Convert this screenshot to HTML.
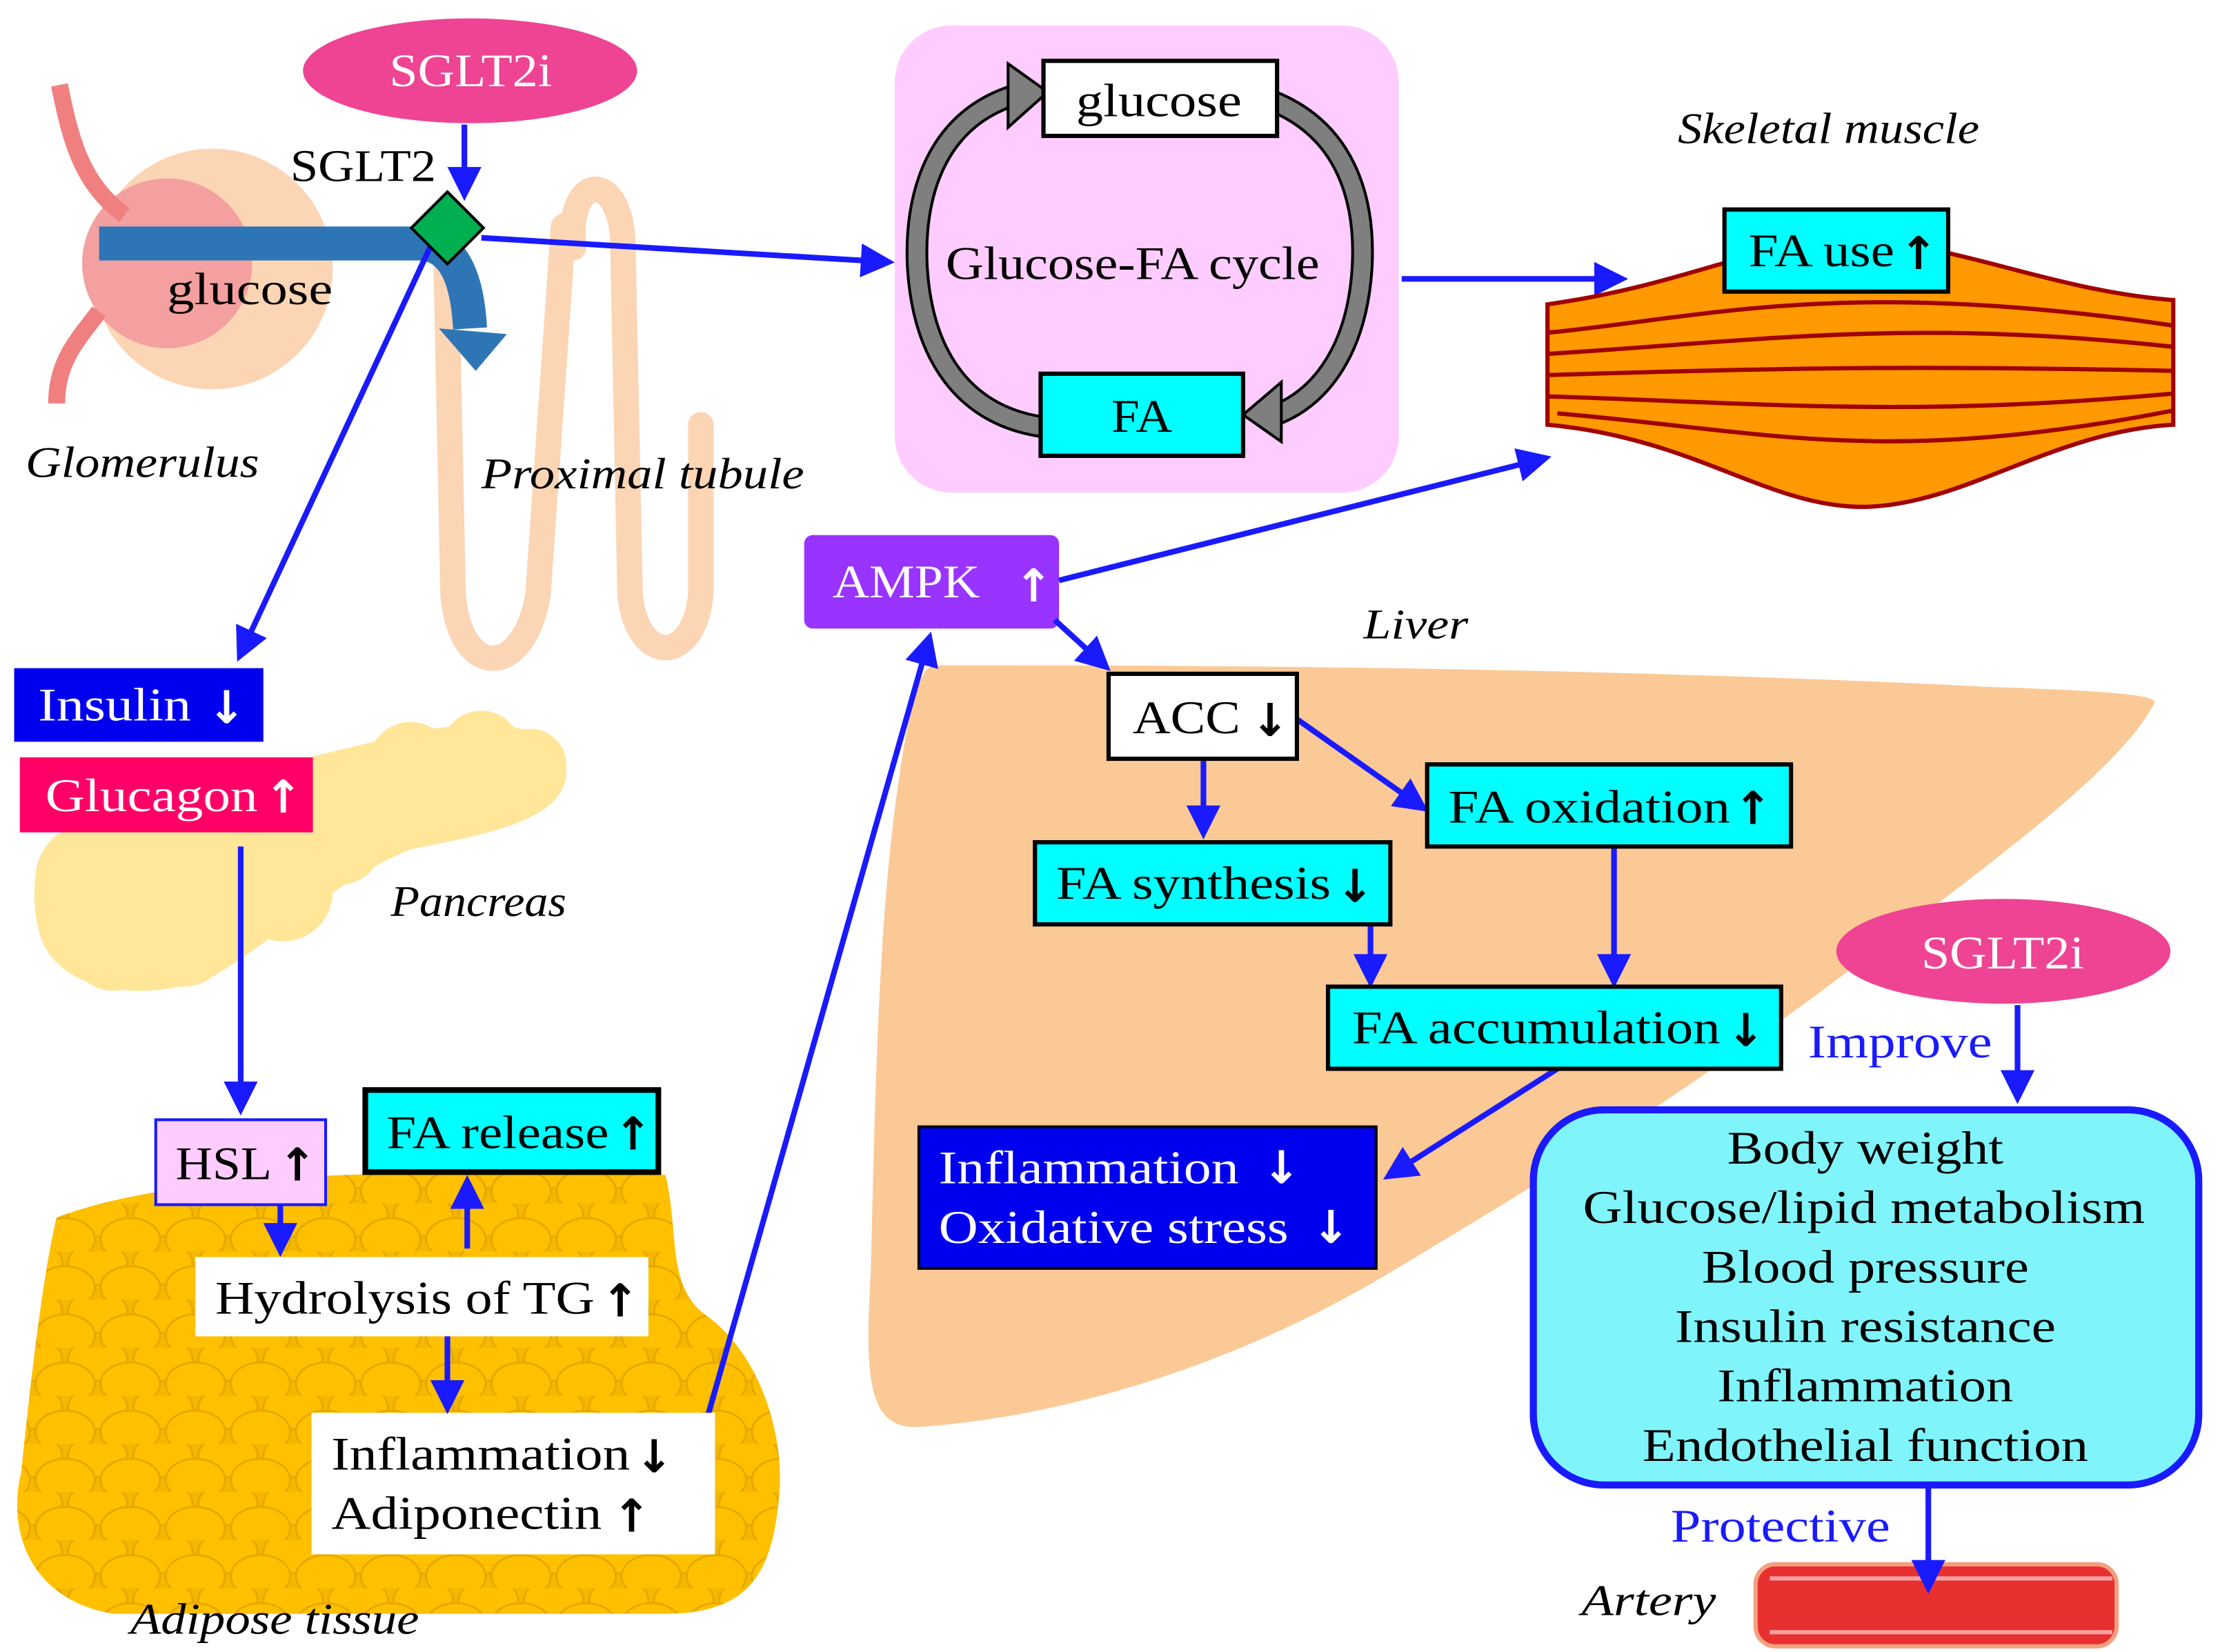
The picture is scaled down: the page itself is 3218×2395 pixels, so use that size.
<!DOCTYPE html>
<html><head><meta charset="utf-8"><style>
html,body{margin:0;padding:0;background:#fff}
svg{display:block}
text{font-family:"Liberation Serif",serif}
.ar{font-family:"DejaVu Sans",sans-serif;font-weight:bold}
</style></head><body>
<svg width="3218" height="2395" viewBox="0 0 1568 1167" xmlns="http://www.w3.org/2000/svg">
<defs>
<marker id="ah" markerWidth="6" markerHeight="6" refX="4.5" refY="3" orient="auto" markerUnits="strokeWidth">
<path d="M0,0 L6,3 L0,6 z" fill="#1a1aff"/></marker>
<pattern id="fat" width="46" height="34" patternUnits="userSpaceOnUse">
<rect width="46" height="34" fill="#f5b800"/>
<ellipse cx="23" cy="8.5" rx="21" ry="15" fill="#ffc000" stroke="#e6a800" stroke-width="1.5"/>
<ellipse cx="0" cy="25.5" rx="21" ry="15" fill="#ffc000" stroke="#e6a800" stroke-width="1.5"/>
<ellipse cx="46" cy="25.5" rx="21" ry="15" fill="#ffc000" stroke="#e6a800" stroke-width="1.5"/>
</pattern>
</defs>
<rect width="1568" height="1167" fill="#fff"/>

<!-- Liver -->
<path d="M660,470 C800,470 1100,470 1400,485 C1480,488 1520,490 1522,496 C1500,540 1420,600 1300,690 C1180,780 1080,840 980,900 C880,960 760,1000 650,1008 C615,1010 610,980 615,900 C618,780 620,650 635,550 C642,500 650,470 660,470 Z" fill="#fbc996"/>
<text x="963" y="451" font-size="30" font-style="italic" textLength="74" lengthAdjust="spacingAndGlyphs">Liver</text>

<!-- Kidney parts -->
<path d="M405,175 C400,120 440,120 440,175 L445,420 C450,470 490,470 495,420 L495,300" fill="none" stroke="#fcd5b5" stroke-width="18" stroke-linecap="round"/>
<path d="M315,180 L320,420 C325,480 370,480 380,420 L398,160" fill="none" stroke="#fcd5b5" stroke-width="18" stroke-linecap="round"/>
<circle cx="150" cy="190" r="85" fill="#fcd5b5"/>
<circle cx="118" cy="186" r="60" fill="#f4a0a0"/>
<path d="M42,60 C50,100 58,130 88,152" fill="none" stroke="#f08080" stroke-width="12"/>
<path d="M70,220 C55,240 40,255 40,285" fill="none" stroke="#f08080" stroke-width="12"/>
<path d="M70,172 L295,172 C320,172 330,195 332,232" fill="none" stroke="#2e75b6" stroke-width="24"/>
<path d="M310,232 L358,236 L336,262 Z" fill="#2e75b6"/>
<text x="118" y="215" font-size="32" textLength="117" lengthAdjust="spacingAndGlyphs">glucose</text>
<text x="205" y="128" font-size="32" textLength="103" lengthAdjust="spacingAndGlyphs">SGLT2</text>
<text x="18" y="337" font-size="31" font-style="italic" textLength="165" lengthAdjust="spacingAndGlyphs">Glomerulus</text>
<text x="340" y="345" font-size="31" font-style="italic" textLength="228" lengthAdjust="spacingAndGlyphs">Proximal tubule</text>

<ellipse cx="332" cy="50" rx="118" ry="37" fill="#ee4493"/>
<text x="275" y="61" font-size="33" fill="#fff" textLength="115" lengthAdjust="spacingAndGlyphs">SGLT2i</text>
<line x1="328" y1="88" x2="328" y2="136" stroke="#1a1aff" stroke-width="4" marker-end="url(#ah)"/>
<line x1="340" y1="168" x2="626" y2="185" stroke="#1a1aff" stroke-width="4" marker-end="url(#ah)"/>
<line x1="305" y1="172" x2="170" y2="462" stroke="#1a1aff" stroke-width="4" marker-end="url(#ah)"/>
<rect x="298" y="143" width="36" height="36" fill="#00b050" stroke="#000" stroke-width="2" transform="rotate(45 316 161)"/>

<!-- Glucose-FA cycle -->
<rect x="632" y="18" width="356" height="330" rx="40" fill="#ffccff"/>
<path d="M725,65 C660,80 645,140 648,190 C652,250 680,295 740,302" fill="none" stroke="#000" stroke-width="16"/>
<path d="M725,65 C660,80 645,140 648,190 C652,250 680,295 740,302" fill="none" stroke="#7f7f7f" stroke-width="12"/>
<path d="M712,45 L740,65 L712,90 Z" fill="#7f7f7f" stroke="#000" stroke-width="2"/>
<path d="M895,70 C950,90 965,140 962,190 C958,250 930,285 895,295" fill="none" stroke="#000" stroke-width="16"/>
<path d="M895,70 C950,90 965,140 962,190 C958,250 930,285 895,295" fill="none" stroke="#7f7f7f" stroke-width="12"/>
<path d="M905,270 L878,293 L905,312 Z" fill="#7f7f7f" stroke="#000" stroke-width="2"/>
<rect x="737" y="43" width="165" height="53" fill="#fff" stroke="#000" stroke-width="3"/>
<text x="760" y="82" font-size="33" textLength="117" lengthAdjust="spacingAndGlyphs">glucose</text>
<rect x="735" y="264" width="143" height="58" fill="#00ffff" stroke="#000" stroke-width="3"/>
<text x="785" y="305" font-size="33" textLength="43" lengthAdjust="spacingAndGlyphs">FA</text>
<text x="668" y="197" font-size="33" textLength="264" lengthAdjust="spacingAndGlyphs">Glucose-FA cycle</text>
<line x1="990" y1="197" x2="1144" y2="197" stroke="#1a1aff" stroke-width="4" marker-end="url(#ah)"/>

<!-- Muscle -->
<text x="1185" y="101" font-size="31" font-style="italic" textLength="213" lengthAdjust="spacingAndGlyphs">Skeletal muscle</text>
<path d="M1093,215 C1200,200 1250,165 1320,170 C1390,175 1450,205 1535,212 L1535,300 C1450,305 1390,355 1320,358 C1250,360 1200,310 1093,300 Z" fill="#ff9900" stroke="#a00000" stroke-width="3"/>
<g fill="none" stroke="#a00000" stroke-width="3">
<path d="M1093,235 C1200,225 1300,195 1535,230"/>
<path d="M1093,250 C1250,240 1350,225 1535,245"/>
<path d="M1093,265 C1250,260 1350,258 1535,262"/>
<path d="M1093,280 C1250,285 1350,295 1535,278"/>
<path d="M1100,292 C1250,305 1330,330 1535,290"/>
</g>
<rect x="1218" y="148" width="158" height="58" fill="#00ffff" stroke="#000" stroke-width="3"/>
<text x="1235" y="188" font-size="33" textLength="103" lengthAdjust="spacingAndGlyphs">FA use</text><text x="1355" y="190" font-size="32" class="ar" text-anchor="middle">↑</text>

<!-- AMPK -->
<rect x="568" y="378" width="180" height="66" rx="6" fill="#9933ff"/>
<text x="588" y="422" font-size="33" fill="#fff" textLength="104" lengthAdjust="spacingAndGlyphs">AMPK</text><text x="730" y="425" font-size="32" fill="#fff" class="ar" text-anchor="middle">↑</text>
<line x1="748" y1="410" x2="1090" y2="324" stroke="#1a1aff" stroke-width="4" marker-end="url(#ah)"/>
<line x1="745" y1="438" x2="780" y2="470" stroke="#1a1aff" stroke-width="4" marker-end="url(#ah)"/>

<!-- Liver boxes -->
<line x1="850" y1="537" x2="850" y2="587" stroke="#1a1aff" stroke-width="4" marker-end="url(#ah)"/>
<line x1="916" y1="508" x2="1004" y2="570" stroke="#1a1aff" stroke-width="4" marker-end="url(#ah)"/>
<line x1="968" y1="654" x2="968" y2="692" stroke="#1a1aff" stroke-width="4" marker-end="url(#ah)"/>
<line x1="1140" y1="598" x2="1140" y2="692" stroke="#1a1aff" stroke-width="4" marker-end="url(#ah)"/>
<line x1="1100" y1="755" x2="982" y2="830" stroke="#1a1aff" stroke-width="4" marker-end="url(#ah)"/>
<rect x="783" y="476" width="133" height="60" fill="#fff" stroke="#000" stroke-width="3"/>
<text x="800" y="518" font-size="33" textLength="76" lengthAdjust="spacingAndGlyphs">ACC</text><text x="897" y="520" font-size="32" class="ar" text-anchor="middle">↓</text>
<rect x="1008" y="540" width="257" height="58" fill="#00ffff" stroke="#000" stroke-width="3"/>
<text x="1023" y="581" font-size="33" textLength="199" lengthAdjust="spacingAndGlyphs">FA oxidation</text><text x="1238" y="582" font-size="32" class="ar" text-anchor="middle">↑</text>
<rect x="731" y="595" width="251" height="58" fill="#00ffff" stroke="#000" stroke-width="3"/>
<text x="746" y="635" font-size="33" textLength="194" lengthAdjust="spacingAndGlyphs">FA synthesis</text><text x="957" y="637" font-size="32" class="ar" text-anchor="middle">↓</text>
<rect x="938" y="697" width="320" height="58" fill="#00ffff" stroke="#000" stroke-width="3"/>
<text x="955" y="737" font-size="33" textLength="260" lengthAdjust="spacingAndGlyphs">FA accumulation</text><text x="1233" y="739" font-size="32" class="ar" text-anchor="middle">↓</text>
<rect x="649" y="796" width="323" height="100" fill="#0000ee" stroke="#000" stroke-width="2"/>
<text x="663" y="836" font-size="33" fill="#fff" textLength="212" lengthAdjust="spacingAndGlyphs">Inflammation</text><text x="905" y="836" font-size="32" fill="#fff" class="ar" text-anchor="middle">↓</text>
<text x="663" y="878" font-size="33" fill="#fff" textLength="247" lengthAdjust="spacingAndGlyphs">Oxidative stress</text><text x="940" y="878" font-size="32" fill="#fff" class="ar" text-anchor="middle">↓</text>

<!-- Right side -->
<ellipse cx="1415" cy="672" rx="118" ry="37" fill="#ee4493"/>
<text x="1357" y="684" font-size="33" fill="#fff" textLength="115" lengthAdjust="spacingAndGlyphs">SGLT2i</text>
<text x="1277" y="747" font-size="33" fill="#1a1aff" textLength="130" lengthAdjust="spacingAndGlyphs">Improve</text>
<line x1="1425" y1="710" x2="1425" y2="774" stroke="#1a1aff" stroke-width="4" marker-end="url(#ah)"/>
<rect x="1083" y="784" width="470" height="265" rx="50" fill="#7ff5fb" stroke="#1a1aff" stroke-width="5"/>
<g font-size="33">
<text x="1220" y="822" textLength="195" lengthAdjust="spacingAndGlyphs">Body weight</text>
<text x="1118" y="864" textLength="397" lengthAdjust="spacingAndGlyphs">Glucose/lipid metabolism</text>
<text x="1202" y="906" textLength="231" lengthAdjust="spacingAndGlyphs">Blood pressure</text>
<text x="1183" y="948" textLength="269" lengthAdjust="spacingAndGlyphs">Insulin resistance</text>
<text x="1213" y="990" textLength="209" lengthAdjust="spacingAndGlyphs">Inflammation</text>
<text x="1160" y="1032" textLength="315" lengthAdjust="spacingAndGlyphs">Endothelial function</text>
</g>
<text x="1180" y="1089" font-size="33" fill="#1a1aff" textLength="155" lengthAdjust="spacingAndGlyphs">Protective</text>
<rect x="1240" y="1105" width="255" height="58" rx="14" fill="#e83030" stroke="#f4a080" stroke-width="3"/>
<line x1="1250" y1="1115" x2="1492" y2="1115" stroke="#f8a0a0" stroke-width="3"/>
<line x1="1250" y1="1153" x2="1492" y2="1153" stroke="#f8a0a0" stroke-width="3"/>
<line x1="1362" y1="1050" x2="1362" y2="1120" stroke="#1a1aff" stroke-width="4" marker-end="url(#ah)"/>
<text x="1117" y="1141" font-size="31" font-style="italic" textLength="95" lengthAdjust="spacingAndGlyphs">Artery</text>

<!-- Pancreas -->
<g fill="#ffe699">
<path d="M40,590 C100,560 200,540 280,520 C340,505 400,510 400,545 C400,580 340,590 290,600 C240,620 200,660 150,690 C100,710 40,700 28,660 C20,630 25,600 40,590 Z"/>
<circle cx="290" cy="540" r="30"/><circle cx="340" cy="530" r="28"/><circle cx="375" cy="540" r="25"/>
<circle cx="60" cy="620" r="35"/><circle cx="80" cy="670" r="30"/><circle cx="130" cy="665" r="32"/><circle cx="200" cy="630" r="35"/><circle cx="240" cy="595" r="30"/>
</g>
<text x="276" y="647" font-size="31" font-style="italic" textLength="124" lengthAdjust="spacingAndGlyphs">Pancreas</text>
<rect x="10" y="472" width="176" height="52" fill="#0000ee"/>
<text x="27" y="509" font-size="33" fill="#fff" textLength="108" lengthAdjust="spacingAndGlyphs">Insulin</text><text x="160" y="511" font-size="32" fill="#fff" class="ar" text-anchor="middle">↓</text>
<rect x="14" y="535" width="207" height="53" fill="#ff0066"/>
<text x="32" y="573" font-size="33" fill="#fff" textLength="150" lengthAdjust="spacingAndGlyphs">Glucagon</text><text x="200" y="574" font-size="32" fill="#fff" class="ar" text-anchor="middle">↑</text>
<line x1="170" y1="598" x2="170" y2="782" stroke="#1a1aff" stroke-width="4" marker-end="url(#ah)"/>

<!-- Adipose -->
<path d="M40,860 C120,830 260,825 470,830 C480,870 470,910 500,930 C540,960 555,1020 550,1060 C545,1110 530,1140 470,1140 L80,1140 C20,1130 5,1080 15,1040 C20,990 30,900 40,860 Z" fill="url(#fat)"/>
<text x="92" y="1154" font-size="31" font-style="italic" textLength="204" lengthAdjust="spacingAndGlyphs">Adipose tissue</text>
<line x1="500" y1="1000" x2="656" y2="452" stroke="#1a1aff" stroke-width="4" marker-end="url(#ah)"/>
<rect x="110" y="791" width="120" height="60" fill="#ffccff" stroke="#1a1aff" stroke-width="2"/>
<text x="124" y="833" font-size="33" textLength="68" lengthAdjust="spacingAndGlyphs">HSL</text><text x="210" y="834" font-size="32" class="ar" text-anchor="middle">↑</text>
<rect x="258" y="770" width="207" height="58" fill="#00ffff" stroke="#000" stroke-width="4"/>
<text x="273" y="811" font-size="33" textLength="157" lengthAdjust="spacingAndGlyphs">FA release</text><text x="447" y="812" font-size="32" class="ar" text-anchor="middle">↑</text>
<rect x="138" y="888" width="320" height="56" fill="#fff"/>
<text x="152" y="928" font-size="33" textLength="268" lengthAdjust="spacingAndGlyphs">Hydrolysis of TG</text><text x="438" y="930" font-size="32" class="ar" text-anchor="middle">↑</text>
<rect x="220" y="998" width="285" height="100" fill="#fff"/>
<text x="234" y="1038" font-size="33" textLength="211" lengthAdjust="spacingAndGlyphs">Inflammation</text><text x="462" y="1040" font-size="32" class="ar" text-anchor="middle">↓</text>
<text x="234" y="1080" font-size="33" textLength="191" lengthAdjust="spacingAndGlyphs">Adiponectin</text><text x="446" y="1082" font-size="32" class="ar" text-anchor="middle">↑</text>
<line x1="198" y1="852" x2="198" y2="882" stroke="#1a1aff" stroke-width="4" marker-end="url(#ah)"/>
<line x1="330" y1="882" x2="330" y2="836" stroke="#1a1aff" stroke-width="4" marker-end="url(#ah)"/>
<line x1="316" y1="944" x2="316" y2="993" stroke="#1a1aff" stroke-width="4" marker-end="url(#ah)"/>
</svg>
</body></html>
